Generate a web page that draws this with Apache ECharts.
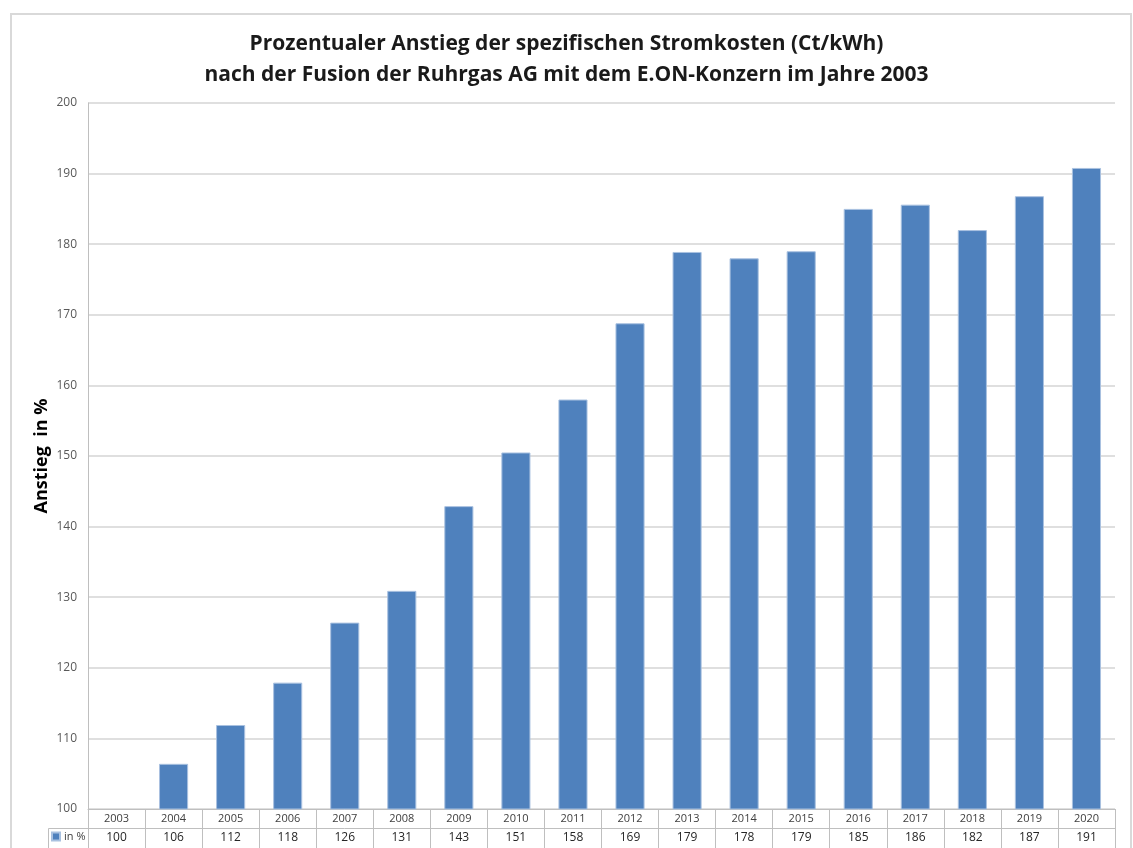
<!DOCTYPE html>
<html>
<head>
<meta charset="utf-8">
<script src="https://cdn.jsdelivr.net/npm/echarts@6/dist/echarts.min.js"></script>
<style>html,body{margin:0;padding:0;background:#fff}#c{width:1133px;height:848px}</style>
</head>
<body>
<div id="c"></div>
<script>
const years = ['2003','2004','2005','2006','2007','2008','2009','2010','2011','2012','2013','2014','2015','2016','2017','2018','2019','2020'];
const barValues = [100, 106.4, 111.9, 117.9, 126.4, 130.9, 142.9, 150.5, 158.0, 168.8, 178.9, 178.0, 179.0, 185.0, 185.6, 182.0, 186.8, 190.8];
const tableValues = [100, 106, 112, 118, 126, 131, 143, 151, 158, 169, 179, 178, 179, 185, 186, 182, 187, 191];
const yTicks = { min: 100, max: 200, interval: 10 };
const seriesName = 'in %';
const titleLines = ['Prozentualer Anstieg der spezifischen Stromkosten (Ct/kWh)', 'nach der Fusion der Ruhrgas AG mit dem E.ON-Konzern im Jahre 2003'];
const yName = 'Anstieg  in %';

const chart = echarts.init(document.getElementById('c'), null, {renderer: 'canvas'});
const font = '"Open Sans", "Liberation Sans", sans-serif';
const border = '#bfbfbf';
chart.setOption({
  animation: false,
  backgroundColor: '#fff',
  textStyle: { fontFamily: font },
  title: {
    text: titleLines.join('\n'),
    left: 'center',
    top: 24,
    textStyle: { fontFamily: font, fontSize: 21, fontWeight: 'bold', color: '#1a1a1a', lineHeight: 31 }
  },
  legend: {
    data: [seriesName],
    left: 51,
    top: 831,
    itemWidth: 8,
    itemHeight: 8,
    itemGap: 4,
    padding: 0,
    icon: 'rect',
    textStyle: { fontFamily: font, fontSize: 11, color: '#404040', padding: [0,0,0,-1] }
  },
  grid: { left: 88, right: 18, top: 103, bottom: 39, containLabel: false },
  xAxis: [
    {
      type: 'category',
      data: years,
      position: 'bottom',
      boundaryGap: true,
      axisLine: { show: true, lineStyle: { color: border, width: 1 } },
      axisTick: { show: true, interval: 0, length: 19, lineStyle: { color: border } },
      axisLabel: { interval: 0, margin: 4, fontSize: 11, color: '#404040', fontFamily: font }
    },
    {
      type: 'category',
      data: years,
      position: 'bottom',
      offset: 19,
      boundaryGap: true,
      axisLine: { show: true, lineStyle: { color: border, width: 1 } },
      axisTick: { show: true, interval: 0, length: 21, lineStyle: { color: border } },
      axisLabel: { interval: 0, margin: 4, fontSize: 12, color: '#262626', fontFamily: font,
        formatter: (v, i) => String(tableValues[i]) }
    }
  ],
  yAxis: {
    type: 'value',
    min: yTicks.min, max: yTicks.max, interval: yTicks.interval,
    name: yName,
    nameLocation: 'middle',
    nameGap: 37,
    nameMoveOverlap: false,
    nameTextStyle: { fontFamily: font, fontSize: 18, fontWeight: 'bold', color: '#000' },
    axisLine: { show: true, lineStyle: { color: border } },
    axisTick: { show: false },
    axisLabel: { margin: 11, fontSize: 12, color: '#595959', fontFamily: font },
    splitLine: { show: true, lineStyle: { color: '#d4d4d4', width: 1.5 } }
  },
  series: [{
    name: seriesName,
    type: 'bar',
    xAxisIndex: 0,
    data: barValues,
    barCategoryGap: '49%',
    itemStyle: { color: '#4f81bd', borderColor: '#a9c1e0', borderWidth: 1 }
  }],
  graphic: [
    { type: 'rect', shape: { x: 11, y: 14, width: 1120, height: 860 }, style: { fill: 'none', stroke: '#d9d9d9', lineWidth: 2 }, silent: true },
    { type: 'line', shape: { x1: 48.5, y1: 828.5, x2: 88, y2: 828.5 }, style: { stroke: border, lineWidth: 1 }, silent: true },
    { type: 'line', shape: { x1: 48.5, y1: 828.5, x2: 48.5, y2: 848 }, style: { stroke: border, lineWidth: 1 }, silent: true }
  ]
});
</script>
</body>
</html>
